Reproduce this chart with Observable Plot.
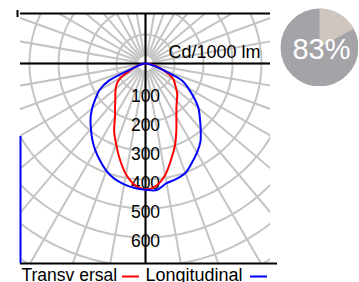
<!DOCTYPE html>
<html><head><meta charset="utf-8">
<script src="https://cdn.jsdelivr.net/npm/d3@7"></script>
<script src="https://cdn.jsdelivr.net/npm/@observablehq/plot@0.6"></script>
<style>
html,body{margin:0;padding:0;background:#fff;}
#wrap{position:relative;width:359px;height:282px;overflow:hidden;font-family:"Liberation Sans",Arial,sans-serif;}
#wrap svg{display:block;}
#pie{position:absolute;left:280px;top:8px;}
</style></head><body><div id="wrap"><div id="main"></div><div id="pie"></div></div>
<script>
// ---- data ----
const angles = [-90,-85,-80,-75,-70,-65,-60,-55,-50,-45,-40,-35,-30,-25,-20,-15,-10,-5,0,5,10,15,20,25,30,35,40,45,50,55,60,65,70,75,80,85,90];
const transversal = [0,3,10,25,42,62,100,120,134,147,162,183,210,256,296,342,388,421,434,423,390,342,298,252,213,186,168,155,139,124,112,90,62,40,18,5,0];
const longitudinal = [0,4,10,22,40,138,183,210,240,268,293,320,346,370,394,412,423,431,435,438,419,412,402,378,355,330,296,265,238,203,170,140,60,32,12,4,0];
const ringValues = [100,200,300,400,500,600,700,800];
const ringLabels = [100,200,300,400,500,600];
const spokeAngles = [0,10,20,30,40,50,60,70,80,90,100,110,120,130,140,150,160,170,180,190,200,210,220,230,240,250,260,270,280,290,300,310,320,330,340,350];
const unitLabel = "Cd/1000 lm";
const seriesNames = ["Transv ersal","Longitudinal"];
const seriesColors = ["#ff0000","#0000ff"];
const efficiency = 83;

// ---- layout ----
const W = 359, H = 282;
const boxL = 20, boxR = 270, boxT = 13, boxB = 263, cx = 145, cy = 63;
const k = 0.29; // px per cd
const px2x = p => (p - cx) / k, px2y = p => (p - cy) / k;
const xDomain = [px2x(boxL), px2x(boxR)];
const yDomain = [px2y(boxT), px2y(boxB)];
const font = "Liberation Sans, Arial, sans-serif";
const rad = Math.PI / 180;

const toXY = (vals, name) => angles.map((a, i) => ({series: name, x: vals[i] * Math.sin(a * rad), y: vals[i] * Math.cos(a * rad)}));
const redPts = toXY(transversal, seriesNames[0]);
const bluePts = toXY(longitudinal, seriesNames[1]);

const spokes = spokeAngles.map(a => ({x1: 25 * Math.sin(a * rad), y1: 25 * Math.cos(a * rad), x2: 1200 * Math.sin(a * rad), y2: 1200 * Math.cos(a * rad)}));
const ringPts = [];
for (const v of ringValues) for (let t = 0; t <= 360; t += 2) ringPts.push({ring: v, x: v * Math.sin(t * rad), y: v * Math.cos(t * rad)});

const grid = "#c4c4c4";
const main = Plot.plot({
  width: W, height: H,
  marginLeft: boxL, marginRight: W - boxR, marginTop: boxT, marginBottom: H - boxB,
  style: {fontFamily: font, background: "white"},
  x: {domain: xDomain, axis: null},
  y: {domain: yDomain, reverse: true, axis: null},
  marks: [
    Plot.link(spokes, {x1: "x1", y1: "y1", x2: "x2", y2: "y2", stroke: grid, strokeWidth: 2, clip: true}),
    Plot.line(ringPts, {x: "x", y: "y", z: "ring", stroke: grid, strokeWidth: 2, clip: true}),
    Plot.ruleY([yDomain[0]], {x1: xDomain[0], x2: xDomain[1], stroke: "black", strokeWidth: 2}),
    Plot.ruleY([0], {stroke: "black", strokeWidth: 2}),
    Plot.ruleX([0], {stroke: "black", strokeWidth: 2}),
    Plot.ruleY([yDomain[1]], {x1: xDomain[0], x2: px2x(277), stroke: "black", strokeWidth: 2}),
    Plot.ruleX([xDomain[0]], {y1: px2y(136), y2: yDomain[1], stroke: seriesColors[1], strokeWidth: 2}),
    Plot.ruleX([px2x(17)], {y1: px2y(10), y2: px2y(17), stroke: "black", strokeWidth: 2}),
    Plot.text(ringLabels, {x: 0, y: d => d, text: d => String(d), dy: 9.5, lineAnchor: "bottom", fontSize: 17.5, fontFamily: font, fill: "black"}),
    Plot.text([unitLabel], {frameAnchor: "top-right", dx: -10, dy: 44, textAnchor: "end", lineAnchor: "bottom", fontSize: 18, fontFamily: font, fill: "black"}),
    Plot.line(redPts, {x: "x", y: "y", stroke: seriesColors[0], strokeWidth: 2, curve: "catmull-rom"}),
    Plot.line(bluePts, {x: "x", y: "y", stroke: seriesColors[1], strokeWidth: 2, curve: "catmull-rom"}),
    Plot.text([seriesNames[0]], {frameAnchor: "bottom-left", dx: 1, dy: 17.5, textAnchor: "start", lineAnchor: "bottom", fontSize: 17.5, fontFamily: font, fill: "black"}),
    Plot.ruleY([px2y(276)], {x1: px2x(122), x2: px2x(139), stroke: seriesColors[0], strokeWidth: 2}),
    Plot.text([seriesNames[1]], {frameAnchor: "bottom-left", dx: 125, dy: 17.5, textAnchor: "start", lineAnchor: "bottom", fontSize: 18, fontFamily: font, fill: "black"}),
    Plot.ruleY([px2y(276)], {x1: px2x(250), x2: px2x(267), stroke: seriesColors[1], strokeWidth: 2})
  ]
});
document.getElementById("main").appendChild(main);

// ---- pie ----
const share = (100 - efficiency) / 100;
const wedge = [{x: 0, y: 0}];
const steps = 40;
for (let i = 0; i <= steps; i++) { const t = share * 2 * Math.PI * i / steps; wedge.push({x: Math.sin(t), y: Math.cos(t)}); }
wedge.push({x: 0, y: 0});
const pie = Plot.plot({
  width: 78, height: 78, margin: 0,
  style: {fontFamily: font, background: "transparent"},
  x: {domain: [-1, 1], axis: null},
  y: {domain: [-1, 1], axis: null},
  marks: [
    Plot.dot([0], {x: 0, y: 0, r: 39, fill: "#a4a3a7", stroke: "none"}),
    Plot.line(wedge, {x: "x", y: "y", fill: "#cfc7bf", stroke: "none"}),
    Plot.text([efficiency + "%"], {frameAnchor: "middle", dx: 2, dy: 11.5, lineAnchor: "bottom", fontSize: 29, fontFamily: font, fill: "white"})
  ]
});
document.getElementById("pie").appendChild(pie);
</script></body></html>
